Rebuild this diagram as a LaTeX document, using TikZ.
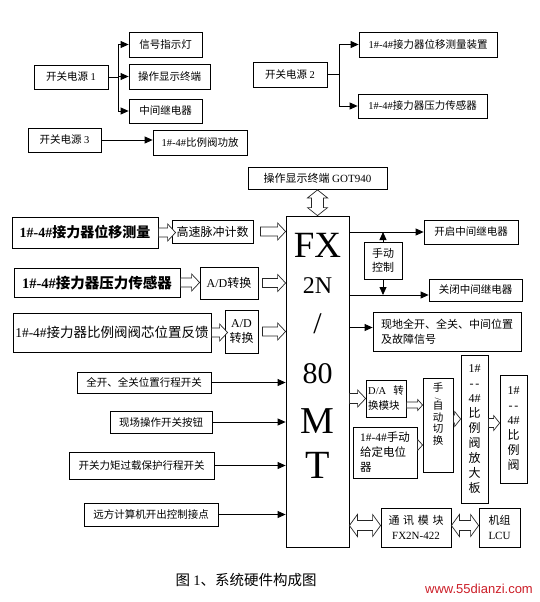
\documentclass[tikz,border=0pt]{standalone}
\usepackage{fontspec}
\setmainfont{Noto Sans CJK SC}
\newfontfamily\lat{Liberation Serif}
\newfontfamily\wsans{Liberation Sans}
\usetikzlibrary{arrows.meta,calc}
\definecolor{wm}{RGB}{205,30,40}
\newcommand\fs[2]{\fontsize{#1pt}{#2pt}\selectfont}
% hollow right arrow: #1 shaft half, #2 head half, #3 head length, #4 start, #5 tip
\newcommand\hollowR[5]{%
  \draw[hol] ($#4+(0,-#1)$) -- ($#5+(-#3,-#1)$) -- ($#5+(-#3,-#2)$) -- #5 --
    ($#5+(-#3,#2)$) -- ($#5+(-#3,#1)$) -- ($#4+(0,#1)$) -- cycle;}
% hollow double horizontal arrow: #4 left tip, #5 right tip
\newcommand\hollowD[5]{%
  \draw[hol] #4 -- ($#4+(#3,-#2)$) -- ($#4+(#3,-#1)$) -- ($#5+(-#3,-#1)$) -- ($#5+(-#3,-#2)$) -- #5 --
    ($#5+(-#3,#2)$) -- ($#5+(-#3,#1)$) -- ($#4+(#3,#1)$) -- ($#4+(#3,#2)$) -- cycle;}
% hollow double vertical arrow: #4 top tip, #5 bottom tip (y grows downward)
\newcommand\hollowV[5]{%
  \draw[hol] #4 -- ($#4+(-#2,#3)$) -- ($#4+(-#1,#3)$) -- ($#5+(-#1,-#3)$) -- ($#5+(-#2,-#3)$) -- #5 --
    ($#5+(#2,-#3)$) -- ($#5+(#1,-#3)$) -- ($#4+(#1,#3)$) -- ($#4+(#2,#3)$) -- cycle;}
\begin{document}
\begin{tikzpicture}[x=1pt,y=-1pt,
  box/.style={draw=black, line width=0.8pt, inner sep=0pt, align=center, font=\fs{10.5}{13}},
  sz/.style 2 args={minimum width=#1pt, minimum height=#2pt},
  arr/.style={line width=0.8pt, -{Triangle[length=8pt,width=7pt]}},
  ln/.style={line width=0.8pt},
  hol/.style={line width=0.7pt, fill=white, draw=black!85},
  big/.style={inner sep=0pt, anchor=base, font=\lat},
]
\useasboundingbox[fill=white] (0,0) rectangle (540,602);

% ---------- power supplies ----------
\node[box, sz={74}{24}] (ps1) at (71,77) {开关电源 {\lat 1}};
\node[box, sz={73}{25}] (sig) at (165.5,44.5) {信号指示灯};
\node[box, sz={81}{25}] (term) at (169.5,76.5) {操作显示终端};
\node[box, sz={73}{24}] (rel) at (165.5,111) {中间继电器};
\node[box, sz={73}{24}] (ps3) at (64.5,140) {开关电源 {\lat 3}};
\node[box, sz={94}{25}] (amp) at (200,142.5) {{\lat 1\#-4\#}比例阀功放};
\node[box, sz={74}{25}] (ps2) at (290,74.5) {开关电源 {\lat 2}};
\node[box, sz={138}{25}] (disp) at (428,44.5) {{\lat 1\#-4\#}接力器位移测量装置};
\node[box, sz={129}{24}] (pres) at (422.5,106) {{\lat 1\#-4\#}接力器压力传感器};

\draw[ln] (ps1.east) -- ++(10,0) coordinate (b1);
\draw[ln] (b1 |- sig.west) -- (b1 |- rel.west);
\draw[arr] (b1 |- sig.west) -- (sig.west);
\draw[arr] (b1 |- term.west) -- (term.west);
\draw[arr] (b1 |- rel.west) -- (rel.west);
\draw[arr] (ps3.east) -- (ps3.east -| amp.west);
\draw[ln] (ps2.east) -- ++(12,0) coordinate (b2);
\draw[ln] (b2 |- disp.west) -- (b2 |- pres.west);
\draw[arr] (b2 |- disp.west) -- (disp.west);
\draw[arr] (b2 |- pres.west) -- (pres.west);

% ---------- PLC ----------
\node[box, sz={139}{22}, font=\fs{11}{13}] (got) at (317.5,178.5) {操作显示终端 {\lat GOT940}};
\node[box, sz={63}{331}] (main) at (317.5,381.5) {};
\node[big, font=\lat\fs{37}{40}] (t1) at (317.5,257) {FX};
\node[big, font=\lat\fs{24}{28}] (t2) at (317.5,293) {2N};
\node[big, font=\lat\fs{30}{34}] (t3) at (317.5,333) {/};
\node[big, font=\lat\fs{30}{34}] (t4) at (317.5,383) {80};
\node[big, font=\lat\fs{38}{42}] (t5) at (317.5,433) {M};
\node[big, font=\lat\fs{40}{44}] (t6) at (317.5,478) {T};
\hollowV{6}{10}{8}{(got.south)}{(main.north)}

% ---------- left inputs ----------
\node[box, sz={146}{31}, font=\bfseries\fs{14}{16}] (in1) at (85,232.5) {{\lat\bfseries 1\#-4\#}接力器位移测量};
\node[box, sz={81}{23}, font=\fs{12}{14}] (hs) at (212.5,231.5) {高速脉冲计数};
\node[box, sz={166}{29}, font=\bfseries\fs{14.5}{16}] (in2) at (97,282.5) {{\lat\bfseries 1\#-4\#}接力器压力传感器};
\node[box, sz={58}{32}, font=\fs{12}{14}] (ad1) at (229,283) {{\lat A/D}转换};
\node[box, sz={198}{39}, font=\fs{13.5}{16}] (in3) at (112,332.5) {{\lat 1\#-4\#}接力器比例阀阀芯位置反馈};
\node[box, sz={33}{43}, font=\fs{12}{15}] (ad2) at (241.5,331.5) {{\lat A/D}\\转换};

\coordinate (e1) at ($(in1.east -| hs.west)+(4,0)$);
\hollowR{4.5}{8.5}{8}{(in1.east)}{(e1)}
\coordinate (s2) at ($(hs.east)+(7,0)$);
\coordinate (e2) at (hs.east -| main.west);
\hollowR{4.5}{8.5}{8}{(s2)}{(e2)}
\coordinate (e3) at (in2.east -| ad1.west);
\hollowR{4.5}{8.5}{8}{(in2.east)}{(e3)}
\coordinate (s4) at ($(ad1.east)+(4,0)$);
\coordinate (e4) at (ad1.east -| main.west);
\hollowR{4.5}{8.5}{8}{(s4)}{(e4)}
\coordinate (e5) at ($(in3.east -| ad2.west)+(3,0)$);
\hollowR{4.5}{8.5}{8}{(in3.east)}{(e5)}
\coordinate (s6) at ($(ad2.east)+(4,0)$);
\coordinate (e6) at (ad2.east -| main.west);
\hollowR{4.5}{8.5}{8}{(s6)}{(e6)}

\node[box, sz={134}{21}] (sw1) at (144,382.5) {全开、全关位置行程开关};
\node[box, sz={102}{22}] (sw2) at (161,422) {现场操作开关按钮};
\node[box, sz={145}{27}] (sw3) at (141.5,465.5) {开关力矩过载保护行程开关};
\node[box, sz={134}{23}] (sw4) at (151,514.5) {远方计算机开出控制接点};
\foreach \n in {sw1,sw2,sw3,sw4}
  \draw[arr] (\n.east) -- (\n.east -| main.west);

% ---------- right outputs ----------
\node[box, sz={94}{24}] (on) at (471,232) {开启中间继电器};
\node[box, sz={38}{37}, font=\fs{11}{14}] (man) at (383,260.5) {手动\\控制};
\node[box, sz={93}{22}] (off) at (475.5,290) {关闭中间继电器};
\node[box, sz={148}{39}, align=left, font=\fs{11}{15}] (loc) at (447,331.5) {现地全开、全关、中间位置\\及故障信号};
\coordinate (oy) at ([yshift=-5pt]off.west);
\coordinate (ly) at ([yshift=4pt]loc.west);
\draw[arr] (main.east |- on.west) -- (on.west);
\draw[arr] (main.east |- oy) -- (oy);
\draw[arr] (main.east |- ly) -- (ly);
\draw[arr] (man.north) -- (man.north |- on.west);
\draw[arr] (man.south) -- (man.south |- oy);

\node[box, sz={40}{37}, align=left, font=\fs{10.5}{15}] (da) at (386,398.5) {{\lat D/A}\hspace{7pt}转\\换模块};
\node[box, sz={64}{51}, align=left, font=\fs{11.5}{15}] (pot) at (385,452.5) {{\lat 1\#-4\#}手动\\给定电位\\器};
\node[box, sz={30}{94}] (sw) at (438,425) {};
\node[inner sep=0pt, anchor=north, align=center, font=\fs{10.5}{11.5}] (swt) at ([yshift=-5pt]sw.north)
  {手\\[-3pt]{\lat\fs{9}{9}\rotatebox{90}{/}}\\[-2pt]自\\动\\切\\换};
\node[box, sz={27}{148}, font=\fs{12}{15}] (amp2) at (474.5,429)
  {{\lat 1\#}\\{\lat -\,-}\\{\lat 4\#}\\比\\例\\阀\\放\\大\\板};
\node[box, sz={27}{108}, font=\fs{12}{15}] (valve) at (513.5,429)
  {{\lat 1\#}\\{\lat -\,-}\\{\lat 4\#}\\比\\例\\阀};

\coordinate (s7) at (main.east |- da.west);
\hollowR{5}{8.5}{8}{(s7)}{(da.west)}
\coordinate (s8) at ([yshift=-6.5pt]da.east);
\coordinate (e8) at (s8 -| sw.west);
\hollowR{3}{5.5}{5}{(s8)}{(e8)}
\coordinate (s9) at ([yshift=7.5pt]pot.east);
\coordinate (e9) at (s9 -| sw.west);
\hollowR{3}{5.5}{5}{(s9)}{(e9)}
\coordinate (s10) at ([yshift=6pt]sw.east);
\coordinate (e10) at (s10 -| amp2.west);
\hollowR{4}{7.5}{6}{(s10)}{(e10)}
\coordinate (s11) at ([yshift=6pt]amp2.east);
\coordinate (e11) at (s11 -| valve.west);
\hollowR{4.5}{7.5}{6}{(s11)}{(e11)}

\node[box, sz={70}{39}, font=\fs{11}{15}] (com) at (416,527.5) {通\,\,讯\,\,模\,\,块\\{\lat FX2N-422}};
\node[box, sz={41}{39}, font=\fs{11}{15}] (lcu) at (499.5,527.5) {机组\\{\lat LCU}};
\coordinate (d1) at ([yshift=2pt]main.east |- com.west);
\coordinate (d2) at ([yshift=2pt]com.west);
\hollowD{5}{11}{8}{(d1)}{(d2)}
\coordinate (d3) at ([yshift=2pt]com.east);
\coordinate (d4) at ([yshift=2pt]lcu.west);
\hollowD{5}{11}{8}{(d3)}{(d4)}

% ---------- caption ----------
\node[inner sep=0pt, font=\fs{14.5}{16}] (cap) at (246,580) {图 {\lat 1}、系统硬件构成图};
\node[inner sep=0pt, font=\wsans\fs{13}{15}, text=wm] (wmk) at (479,589) {www.55dianzi.com};
\end{tikzpicture}
\end{document}
